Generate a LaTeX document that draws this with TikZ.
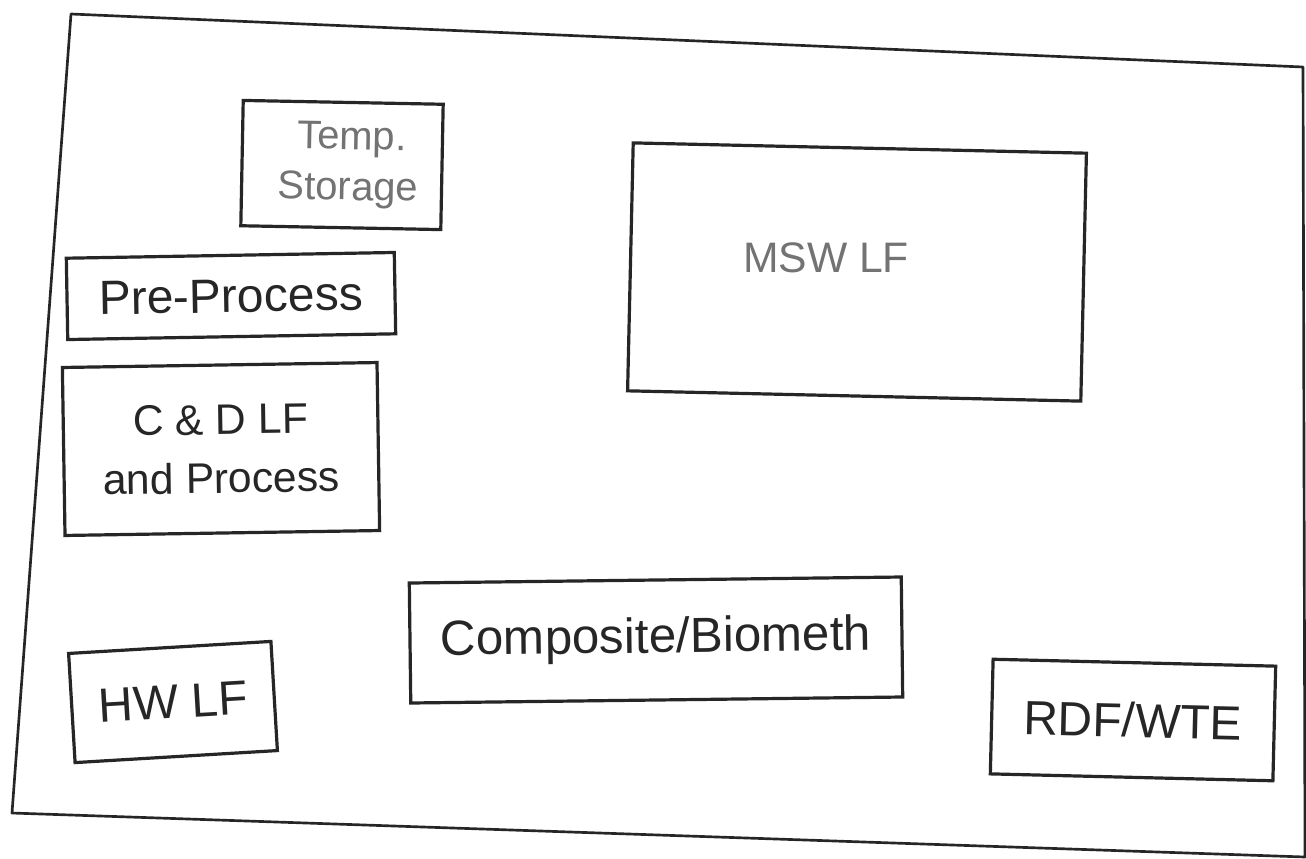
\documentclass[tikz,border=0pt]{standalone}
\usepackage{fontspec}
\setmainfont{Liberation Sans}
\begin{document}
\begin{tikzpicture}[x=0.75pt,y=-0.75pt,
  box/.style={draw=black!85, line width=2.4pt, inner sep=0pt, align=center, text=black!85},
  faint/.style={text=black!55},
  frame/.style={draw=black!85, line width=2pt, line join=round}]
\useasboundingbox (0,0) rectangle (1306,858);
% outer sheet border
\draw[frame] (71,14) -- (1303,67) -- (1305,857) -- (12,813) -- cycle;
% boxes
\node[box, faint, minimum width=150pt, minimum height=94pt, rotate=-1.1,
      font=\fontsize{30}{38}\selectfont] (temp) at (342,165) {\hspace*{14pt}Temp.\\\hspace*{10pt}Storage};
\node[box, minimum width=246pt, minimum height=61pt, rotate=1,
      font=\fontsize{36}{40}\selectfont] (pre) at (231,296) {Pre-Process};
\node[box, minimum width=236pt, minimum height=126pt, rotate=0.9,
      font=\fontsize{32}{44}\selectfont] (cd) at (221,449) {C \& D LF\\and Process};
\node[box, minimum width=340pt, minimum height=186pt, rotate=-1.3] (msw) at (857,272) {};
\node[faint, font=\fontsize{32}{38}\selectfont] (mswt) at (826,258) {MSW LF};
\node[box, minimum width=369pt, minimum height=90pt, rotate=0.7,
      font=\fontsize{37}{40}\selectfont] (comp) at (656,640) {Composite/Biometh};
\node[box, minimum width=152pt, minimum height=82pt, rotate=3.4,
      font=\fontsize{36}{40}\selectfont] (hw) at (173,702) {HW LF};
\node[box, minimum width=212pt, minimum height=86pt, rotate=-1.4,
      font=\fontsize{36}{40}\selectfont] (rdf) at (1133,720) {RDF/WTE};
\end{tikzpicture}
\end{document}
